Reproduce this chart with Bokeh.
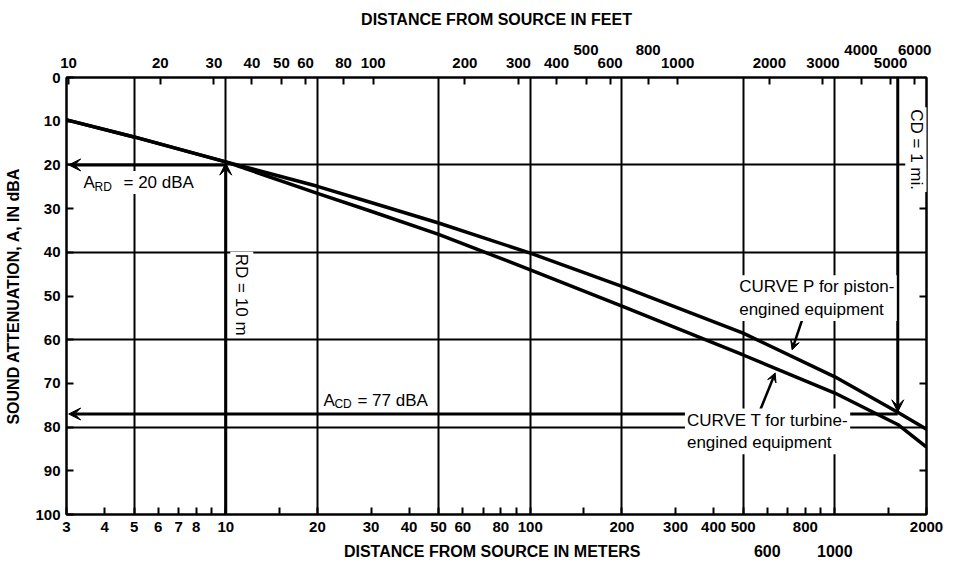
import math
from bokeh.plotting import figure
from bokeh.models import (Range1d, LogScale, LogAxis, LinearAxis, FixedTicker,
                          PrintfTickFormatter, Label, Arrow, VeeHead)
from bokeh.embed import file_html
from bokeh.resources import INLINE

# ---------------- data ----------------
meters = [3, 5, 10, 20, 30, 50, 100, 200, 500, 1000, 1609, 2000]
curve_p = [9.7, 13.6, 19.3, 24.9, 28.6, 33.3, 40.2, 47.8, 58.5, 68.5, 76.6, 80.5]
curve_t = [9.7, 13.6, 19.3, 26.5, 30.6, 35.9, 44.0, 52.3, 63.5, 72.2, 79.4, 84.6]

meter_labeled = [3, 4, 5, 6, 7, 8, 10, 20, 30, 40, 50, 60, 80, 100,
                 200, 300, 400, 500, 800, 2000]
meter_unlabeled = [9, 15, 70, 90, 150, 700, 900, 1500]
meter_second_row = [600, 1000]
meter_grid = [5, 10, 20, 50, 100, 200, 500, 1000]
BOTTOM_TITLE_AT = 75   # metre position under which the bottom title is centred

feet_labeled = [10, 20, 30, 40, 50, 60, 80, 100, 200, 300, 400, 600, 1000,
                2000, 3000, 5000]
feet_raised = [500, 800, 4000, 6000]
FT = 0.3048

db_ticks = [0, 10, 20, 30, 40, 50, 60, 70, 80, 90, 100]
db_grid = [20, 40, 60, 80]
db_side_ticks = [10, 30, 50, 70, 90]

RD_M = 10          # reference distance, m
A_RD = 20          # attenuation at RD
CD_M = 1609.34     # 1 mile in m
A_CD = 77          # attenuation at CD

FONT = "Liberation Sans"

p = figure(width=958, height=569, x_axis_type="log",
           x_range=Range1d(3, 2000), y_range=Range1d(100, 0),
           output_backend="svg", toolbar_location=None,
           min_border_left=66, min_border_right=32,
           min_border_top=77, min_border_bottom=55)
p.background_fill_color = "white"
p.border_fill_color = "white"
p.outline_line_color = "black"
p.outline_line_width = 2

# grids
p.xgrid.ticker = FixedTicker(ticks=meter_grid)
p.ygrid.ticker = FixedTicker(ticks=db_grid)
for g in (p.xgrid, p.ygrid):
    g.grid_line_color = "black"
    g.grid_line_width = 2

def style_axis(ax, size="15px"):
    ax.axis_line_color = "black"
    ax.axis_line_width = 2
    ax.major_tick_in = 7
    ax.major_tick_out = 0
    ax.minor_tick_in = 7
    ax.minor_tick_out = 0
    ax.major_tick_line_width = 2
    ax.minor_tick_line_width = 2
    ax.major_tick_line_color = "black"
    ax.minor_tick_line_color = "black"
    ax.major_label_text_font = FONT
    ax.major_label_text_font_style = "bold"
    ax.major_label_text_font_size = size
    ax.major_label_text_color = "black"
    ax.axis_label_text_font = FONT
    ax.axis_label_text_font_style = "bold"
    ax.axis_label_text_font_size = "16px"
    ax.axis_label_text_color = "black"

def bare(ax):
    ax.axis_line_color = None
    ax.major_tick_line_color = None
    ax.minor_tick_line_color = None
    ax.major_tick_in = 0
    ax.major_tick_out = 0
    ax.minor_tick_in = 0
    ax.minor_tick_out = 0

# bottom axis (meters), first row of labels
xa = p.xaxis[0]
xa.ticker = FixedTicker(ticks=meter_labeled, minor_ticks=meter_unlabeled + meter_second_row)
xa.formatter = PrintfTickFormatter(format="%d")
style_axis(xa)
xa.major_label_standoff = 7

# bottom second row: 600, 1000 and the axis title
xb = LogAxis(ticker=FixedTicker(ticks=[BOTTOM_TITLE_AT] + meter_second_row),
             formatter=PrintfTickFormatter(format="%d"))
xb.major_label_overrides = {BOTTOM_TITLE_AT: "DISTANCE FROM SOURCE IN METERS"}
style_axis(xb, size="16px")
bare(xb)
xb.major_label_standoff = 8
p.add_layout(xb, "below")

# left axis
ya = p.yaxis[0]
ya.ticker = FixedTicker(ticks=db_ticks)
style_axis(ya)
ya.minor_tick_in = 0
ya.major_label_standoff = 6
ya.axis_label = "SOUND ATTENUATION, A, IN dBA"
ya.axis_label_standoff = 10

# right axis (inward ticks only, no labels)
ra = LinearAxis(ticker=FixedTicker(ticks=[], minor_ticks=db_side_ticks))
style_axis(ra)
ra.major_label_standoff = 0
p.add_layout(ra, "right")

# top axes (feet)
p.extra_x_ranges = {"feet": Range1d(3 / FT, 2000 / FT)}
p.extra_x_scales = {"feet": LogScale()}
ta = LogAxis(x_range_name="feet",
             ticker=FixedTicker(ticks=feet_labeled, minor_ticks=feet_raised),
             formatter=PrintfTickFormatter(format="%d"))
style_axis(ta)
ta.major_label_standoff = 10
p.add_layout(ta, "above")

tb = LogAxis(x_range_name="feet", ticker=FixedTicker(ticks=feet_raised),
             formatter=PrintfTickFormatter(format="%d"))
style_axis(tb)
bare(tb)
tb.major_label_standoff = 0
tb.axis_label = "DISTANCE FROM SOURCE IN FEET"
tb.axis_label_standoff = 14
p.add_layout(tb, "above")

# curves
p.line(meters, curve_p, line_width=3.5, line_color="black")
p.line(meters, curve_t, line_width=3.5, line_color="black")

def head(size=12):
    return VeeHead(size=size, fill_color="black", line_color="black", line_width=1)

# arrows
p.add_layout(Arrow(end=head(), x_start=RD_M, y_start=100, x_end=RD_M, y_end=A_RD - 0.4,
                   line_width=3, line_color="black"))
p.add_layout(Arrow(end=head(), x_start=RD_M, y_start=A_RD, x_end=3.05, y_end=A_RD,
                   line_width=3, line_color="black"))
p.add_layout(Arrow(end=head(), x_start=CD_M, y_start=0, x_end=CD_M, y_end=A_CD - 0.5,
                   line_width=3, line_color="black"))
p.add_layout(Arrow(end=head(), x_start=CD_M, y_start=A_CD, x_end=3.05, y_end=A_CD,
                   line_width=3, line_color="black"))
# label pointers
p.add_layout(Arrow(end=head(9), x_start=780, y_start=55.6, x_end=724, y_end=62.3,
                   line_width=2.5, line_color="black"))
p.add_layout(Arrow(end=head(9), x_start=568, y_start=76.2, x_end=637, y_end=67.6,
                   line_width=2.5, line_color="black"))

def lab(x, y, text, size="17px", style="normal", align="left", baseline="middle",
        xo=0, angle=0, pad=2):
    L = Label(x=x, y=y, text=text, x_offset=xo, text_font=FONT,
              text_font_size=size, text_font_style=style, text_color="black",
              text_align=align, text_baseline=baseline, angle=angle,
              background_fill_color="white", padding=pad)
    p.add_layout(L)

# A_RD = 20 dBA  (subscript drawn first so the capital sits on top)
lab(3, 25.0, "RD", size="12px", xo=28, pad=0)
lab(3, 24.0, "A", xo=17, pad=0)
lab(3, 24.0, "= 20 dBA", xo=55)
# A_CD = 77 dBA (kept clear of the arrow line below it)
lab(20, 74.6, "CD", size="12px", xo=17, pad=0)
lab(20, 73.9, "A", xo=6, pad=0)
lab(20, 73.9, "= 77 dBA", xo=40, pad=0)
# RD = 10 m (rotated)
lab(RD_M, 49.7, "RD = 10 m", align="center", xo=16, angle=-math.pi / 2)
# CD = 1 mi. (rotated)
lab(CD_M, 16.5, "CD = 1 mi.", align="center", xo=19, angle=-math.pi / 2)
# curve labels
lab(478, 50.5, "CURVE P for piston-\nengined equipment")
lab(322, 81.0, "CURVE T for turbine-\nengined equipment")

open("out.html", "w").write(file_html(p, INLINE))
